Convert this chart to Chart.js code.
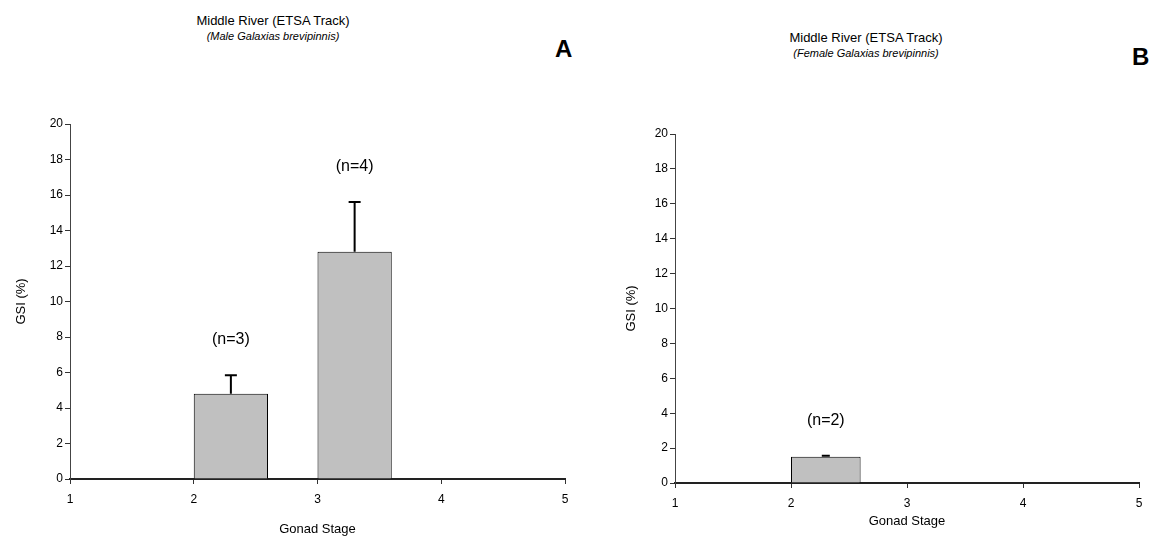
<!DOCTYPE html>
<html>
<head>
<meta charset="utf-8">
<title>Middle River GSI by gonad stage</title>
<script src="https://cdn.jsdelivr.net/npm/chart.js@4.4.0/dist/chart.umd.min.js"></script>
<style>
  html, body { margin: 0; padding: 0; background: #fff; }
  body { width: 1161px; height: 539px; position: relative; overflow: hidden;
         font-family: "Liberation Sans", Arial, sans-serif; color: #000; }
  .panel { position: absolute; top: 0; height: 539px; }
  .head { position: absolute; transform: translateX(-50%); white-space: nowrap; text-align: center; line-height: 1; }
  .head .main { font-size: 13px; }
  .head .sub { font-size: 11px; font-style: italic; margin-top: 4px; }
  .tag { position: absolute; font-size: 24px; font-weight: bold; line-height: 1; }
</style>
</head>
<body>
  <div class="head" style="left:273px; top:14px;">
    <div class="main">Middle River (ETSA Track)</div>
    <div class="sub">(Male Galaxias brevipinnis)</div>
  </div>
  <div class="tag" style="left:555px; top:37px;">A</div>

  <div class="head" style="left:866px; top:31px;">
    <div class="main">Middle River (ETSA Track)</div>
    <div class="sub">(Female Galaxias brevipinnis)</div>
  </div>
  <div class="tag" style="left:1132px; top:45px;">B</div>

  <div class="panel" style="left:0; width:590px;"><canvas id="maleChart" width="590" height="539"></canvas></div>
  <div class="panel" style="left:590px; width:571px;"><canvas id="femaleChart" width="571" height="539"></canvas></div>

<script>
// gonad stages on the x axis and GSI range on the y axis
const stageTicks = [1, 2, 3, 4, 5];
const gsiMin = 0;
const gsiMax = 20;
const gsiStep = 2;

// males
const maleStage = [2, 3];
const maleGSI = [4.8, 12.8];
const maleSE = [1.05, 2.8];
const maleN = [3, 4];

// females
const femaleStage = [2];
const femaleGSI = [1.5];
const femaleSE = [0.06];
const femaleN = [2];

// columns sit to the right of their stage tick
const BAR_SHIFT = 0.3;

const FONT = 'Liberation Sans, Arial, sans-serif';

// draws the standard error whisker (upper half only) and the sample size above it
const errorBars = {
    id: 'errorBars',
    afterDatasetsDraw(chart, args, opts) {
        const ctx = chart.ctx;
        const y = chart.scales.y;
        const ds = chart.data.datasets[0];
        const meta = chart.getDatasetMeta(0);
        ctx.save();
        ctx.strokeStyle = '#000';
        ctx.lineWidth = opts.lineWidth;
        ctx.fillStyle = '#000';
        ctx.font = '16px ' + FONT;
        ctx.textAlign = 'center';
        ctx.textBaseline = 'middle';
        meta.data.forEach((bar, i) => {
            const top = ds.data[i].y + ds.errors[i];
            const yTop = y.getPixelForValue(top);
            ctx.beginPath();
            ctx.moveTo(bar.x, bar.y);
            ctx.lineTo(bar.x, yTop);
            ctx.moveTo(bar.x - opts.cap / 2, yTop);
            ctx.lineTo(bar.x + opts.cap / 2, yTop);
            ctx.stroke();
            ctx.fillText('(n=' + ds.counts[i] + ')', bar.x, y.getPixelForValue(top + opts.labelGap));
        });
        ctx.restore();
    }
};

function buildChart(id, stages, gsi, se, counts, geo) {
    const points = stages.map((s, i) => ({ x: s + BAR_SHIFT, y: gsi[i] }));
    return new Chart(document.getElementById(id), {
        type: 'bar',
        data: {
            datasets: [{
                data: points,
                errors: se,
                counts: counts,
                backgroundColor: '#c0c0c0',
                borderColor: '#000',
                borderWidth: 1,
                borderSkipped: 'bottom',
                categoryPercentage: 1,
                barPercentage: 0.6
            }]
        },
        options: {
            responsive: false,
            animation: false,
            layout: { padding: geo.padding },
            plugins: {
                legend: { display: false },
                tooltip: { enabled: false },
                errorBars: { lineWidth: 2, cap: geo.cap, labelGap: 2 }
            },
            scales: {
                x: {
                    type: 'linear',
                    min: stageTicks[0],
                    max: stageTicks[stageTicks.length - 1],
                    offset: false,
                    afterBuildTicks: (axis) => { axis.ticks = stageTicks.map(v => ({ value: v })); },
                    afterFit: (axis) => { axis.height = geo.xHeight; },
                    grid: { offset: false, drawOnChartArea: false, drawTicks: true, tickLength: 5, tickColor: '#333' },
                    border: { color: '#222', width: 2 },
                    ticks: { color: '#000', padding: 8, font: { family: FONT, size: 12 } },
                    title: { display: true, text: 'Gonad Stage', color: '#000', padding: { top: 0, bottom: 2 },
                             font: { family: FONT, size: 13 } }
                },
                y: {
                    min: gsiMin,
                    max: gsiMax,
                    ticks: { stepSize: gsiStep, color: '#000', padding: 2, font: { family: FONT, size: 12 } },
                    afterFit: (axis) => { axis.width = geo.yWidth; },
                    grid: { drawOnChartArea: false, drawTicks: true, tickLength: 5, tickColor: '#333' },
                    border: { color: '#444', width: 1 },
                    title: { display: true, text: 'GSI (%)', color: '#000', padding: { top: geo.yTitlePad, bottom: 0 },
                             font: { family: FONT, size: 13 } }
                }
            }
        },
        plugins: [errorBars]
    });
}

buildChart('maleChart', maleStage, maleGSI, maleSE, maleN, {
    padding: { top: 124, right: 25, bottom: 0, left: 0 },
    xHeight: 60, yWidth: 70, yTitlePad: 14, cap: 12
});

buildChart('femaleChart', femaleStage, femaleGSI, femaleSE, femaleN, {
    padding: { top: 134, right: 22, bottom: 8, left: 0 },
    xHeight: 48, yWidth: 85, yTitlePad: 34, cap: 8
});
</script>
</body>
</html>
